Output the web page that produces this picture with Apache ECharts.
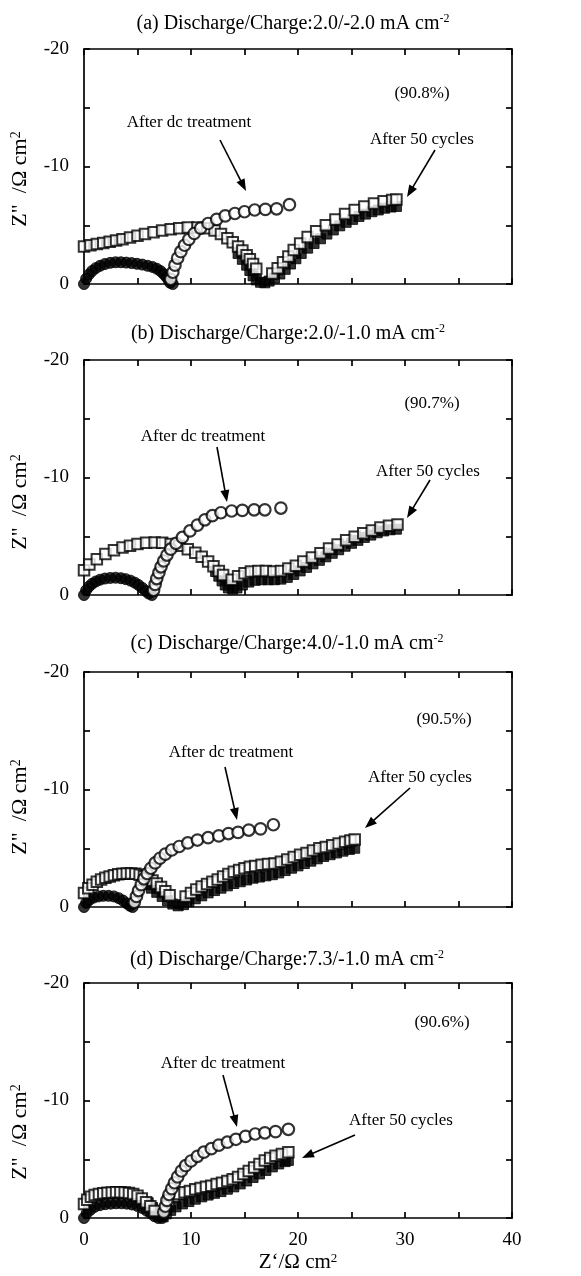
<!DOCTYPE html>
<html><head><meta charset="utf-8">
<script src="https://cdn.jsdelivr.net/npm/echarts/dist/echarts.min.js"></script>
<style>html,body{margin:0;padding:0;background:#fff}#c{width:581px;height:1276px}</style>
</head><body><div id="c"></div>
<script>
// ---------- labels ----------
const panelTitles = [
  '(a) Discharge/Charge:2.0/-2.0 mA cm{sup|-2}',
  '(b) Discharge/Charge:2.0/-1.0 mA cm{sup|-2}',
  '(c) Discharge/Charge:4.0/-1.0 mA cm{sup|-2}',
  '(d) Discharge/Charge:7.3/-1.0 mA cm{sup|-2}'
];
const efficiencies = ['(90.8%)', '(90.7%)', '(90.5%)', '(90.6%)'];
const dcLabel = 'After dc treatment';
const cycLabel = 'After 50 cycles';
const yName = 'Z"  /Ω cm{sup|2}';
const xName = 'Z‘/Ω cm{sup|2}';
const xRange = [0, 40];
const yRange = [-20, 0];
const tickStep = 5;
const labelStep = 10;

// ---------- data: [Z' , Z''] ----------
// (a)
const dcArcA = [[0,0],[0.2,-0.45],[0.45,-0.8],[0.75,-1.1],[1.1,-1.35],[1.5,-1.55],[1.95,-1.7],[2.45,-1.8],[2.95,-1.85],[3.45,-1.85],[3.95,-1.82],[4.45,-1.78],[4.95,-1.72],[5.45,-1.65],[5.95,-1.55],[6.4,-1.45],[6.8,-1.3],[7.15,-1.1],[7.45,-0.85],[7.7,-0.6],[7.9,-0.35],[8.05,-0.1],[8.3,0]];
const dcA = [[8.1,-0.4],[8.3,-1.0],[8.5,-1.6],[8.75,-2.2],[9.05,-2.75],[9.4,-3.3],[9.8,-3.8],[10.3,-4.3],[10.9,-4.75],[11.6,-5.15],[12.4,-5.5],[13.2,-5.8],[14.1,-6.0],[15.0,-6.15],[15.95,-6.3],[16.95,-6.35],[18.0,-6.4],[19.2,-6.75]];
const cycBandA = [[14.4,-2.6],[14.8,-2.1],[15.2,-1.6],[15.5,-1.15],[15.8,-0.7],[16.1,-0.35],[16.5,-0.15],[16.9,-0.1],[17.3,-0.25],[17.8,-0.5],[18.3,-0.85],[18.8,-1.25],[19.3,-1.7],[19.8,-2.15],[20.3,-2.6],[20.9,-3.05],[21.5,-3.45],[22.1,-3.85],[22.7,-4.25],[23.3,-4.6],[23.9,-4.95],[24.5,-5.25],[25.1,-5.5],[25.7,-5.75],[26.3,-5.95],[26.9,-6.15],[27.5,-6.3],[28.1,-6.45],[28.7,-6.55],[29.2,-6.6]];
const cycA = [[0.0,-3.2],[0.6,-3.3],[1.2,-3.4],[1.8,-3.5],[2.4,-3.6],[3.0,-3.7],[3.6,-3.8],[4.3,-3.95],[5.0,-4.1],[5.7,-4.25],[6.5,-4.4],[7.3,-4.55],[8.1,-4.65],[8.9,-4.75],[9.7,-4.8],[10.6,-4.8],[11.5,-4.75],[12.2,-4.55],[12.8,-4.25],[13.4,-3.9],[13.9,-3.55],[14.4,-3.2],[14.8,-2.85],[15.2,-2.45],[15.5,-2.1],[15.8,-1.7],[16.1,-1.3],[17.6,-0.9],[18.1,-1.35],[18.6,-1.85],[19.1,-2.35],[19.6,-2.9],[20.2,-3.45],[20.9,-4.0],[21.7,-4.5],[22.6,-5.0],[23.5,-5.5],[24.4,-5.95],[25.3,-6.3],[26.2,-6.6],[27.1,-6.85],[28.0,-7.05],[28.8,-7.15],[29.2,-7.2]];
// (b)
const dcArcB = [[0,0],[0.2,-0.4],[0.45,-0.7],[0.75,-0.95],[1.1,-1.15],[1.5,-1.3],[1.95,-1.4],[2.45,-1.45],[2.95,-1.47],[3.45,-1.43],[3.9,-1.35],[4.35,-1.22],[4.75,-1.05],[5.1,-0.85],[5.45,-0.6],[5.75,-0.35],[6.05,-0.12],[6.35,0]];
const dcB = [[6.5,-0.4],[6.65,-0.9],[6.8,-1.4],[7.0,-1.9],[7.2,-2.4],[7.45,-2.9],[7.75,-3.4],[8.1,-3.9],[8.6,-4.4],[9.2,-4.9],[9.9,-5.45],[10.6,-5.95],[11.3,-6.4],[12.0,-6.75],[12.8,-7.0],[13.8,-7.15],[14.8,-7.2],[15.9,-7.25],[16.9,-7.25],[18.4,-7.4]];
const cycBandB = [[12.3,-2.0],[12.6,-1.6],[12.9,-1.2],[13.2,-0.85],[13.5,-0.6],[13.9,-0.5],[14.3,-0.6],[14.8,-0.85],[15.4,-1.1],[16.0,-1.25],[16.6,-1.3],[17.2,-1.3],[17.8,-1.3],[18.4,-1.35],[19.0,-1.5],[19.6,-1.75],[20.2,-2.05],[20.8,-2.35],[21.4,-2.65],[22.0,-2.95],[22.6,-3.25],[23.2,-3.55],[23.8,-3.85],[24.4,-4.15],[25.0,-4.4],[25.6,-4.65],[26.2,-4.9],[26.8,-5.1],[27.4,-5.3],[28.0,-5.45],[28.6,-5.55],[29.2,-5.6]];
const cycB = [[0.0,-2.1],[0.5,-2.6],[1.2,-3.05],[2.0,-3.5],[2.8,-3.8],[3.6,-4.05],[4.3,-4.2],[5.0,-4.33],[5.8,-4.45],[6.6,-4.47],[7.3,-4.45],[8.1,-4.33],[8.9,-4.2],[9.7,-3.9],[10.4,-3.6],[11.0,-3.25],[11.6,-2.85],[12.1,-2.45],[12.6,-2.05],[13.0,-1.7],[13.8,-1.3],[14.4,-1.6],[15.0,-1.85],[15.6,-2.0],[16.3,-2.05],[17.0,-2.05],[17.7,-2.0],[18.4,-2.05],[19.1,-2.25],[19.8,-2.5],[20.5,-2.85],[21.3,-3.2],[22.1,-3.55],[22.9,-3.95],[23.7,-4.3],[24.5,-4.65],[25.3,-4.95],[26.1,-5.25],[26.9,-5.5],[27.7,-5.75],[28.5,-5.9],[29.3,-6.0]];
// (c)
const dcArcC = [[0,0],[0.2,-0.35],[0.5,-0.6],[0.9,-0.8],[1.35,-0.9],[1.8,-0.95],[2.3,-0.95],[2.8,-0.9],[3.25,-0.75],[3.65,-0.55],[4.0,-0.3],[4.3,-0.1],[4.55,0]];
const dcC = [[4.7,-0.4],[4.9,-0.9],[5.1,-1.4],[5.35,-1.9],[5.6,-2.4],[5.9,-2.85],[6.25,-3.3],[6.65,-3.75],[7.1,-4.15],[7.6,-4.5],[8.2,-4.85],[8.9,-5.15],[9.7,-5.45],[10.6,-5.7],[11.6,-5.9],[12.6,-6.05],[13.5,-6.25],[14.4,-6.35],[15.4,-6.55],[16.5,-6.65],[17.7,-7.0]];
const cycBandC = [[5.8,-1.9],[6.3,-1.6],[6.8,-1.25],[7.3,-0.9],[7.8,-0.55],[8.3,-0.25],[8.8,-0.1],[9.3,-0.2],[9.8,-0.45],[10.4,-0.7],[11.0,-0.95],[11.6,-1.2],[12.2,-1.4],[12.8,-1.6],[13.4,-1.8],[14.0,-2.0],[14.6,-2.15],[15.2,-2.3],[15.8,-2.45],[16.4,-2.55],[17.0,-2.65],[17.6,-2.75],[18.2,-2.9],[18.8,-3.1],[19.4,-3.3],[20.0,-3.5],[20.6,-3.7],[21.2,-3.9],[21.8,-4.1],[22.4,-4.3],[23.0,-4.45],[23.6,-4.6],[24.2,-4.75],[24.8,-4.9],[25.3,-5.0]];
const cycC = [[0.0,-1.2],[0.4,-1.6],[0.8,-1.9],[1.2,-2.15],[1.6,-2.35],[2.0,-2.5],[2.4,-2.6],[2.8,-2.7],[3.2,-2.78],[3.6,-2.83],[4.0,-2.85],[4.4,-2.85],[4.8,-2.82],[5.2,-2.75],[5.6,-2.62],[6.0,-2.45],[6.4,-2.25],[6.8,-2.0],[7.2,-1.7],[7.6,-1.35],[8.0,-1.0],[9.5,-0.9],[10.0,-1.2],[10.5,-1.5],[11.0,-1.75],[11.5,-1.95],[12.0,-2.15],[12.5,-2.35],[13.0,-2.6],[13.5,-2.8],[14.0,-3.0],[14.5,-3.15],[15.0,-3.3],[15.5,-3.42],[16.0,-3.5],[16.6,-3.6],[17.2,-3.65],[17.8,-3.7],[18.4,-3.85],[19.0,-4.05],[19.6,-4.25],[20.2,-4.45],[20.8,-4.6],[21.4,-4.8],[22.0,-5.0],[22.6,-5.1],[23.2,-5.25],[23.8,-5.4],[24.4,-5.55],[24.9,-5.65],[25.3,-5.75]];
// (d)
const dcArcD = [[0,0],[0.25,-0.4],[0.6,-0.7],[1.0,-0.95],[1.5,-1.1],[2.0,-1.18],[2.5,-1.22],[3.0,-1.25],[3.5,-1.25],[4.0,-1.22],[4.5,-1.15],[5.0,-1.02],[5.45,-0.85],[5.85,-0.62],[6.25,-0.38],[6.6,-0.15],[6.95,0],[7.3,0]];
const dcD = [[7.45,-0.5],[7.6,-1.0],[7.75,-1.5],[7.95,-2.0],[8.2,-2.5],[8.45,-3.0],[8.75,-3.5],[9.1,-4.0],[9.5,-4.45],[10.0,-4.85],[10.6,-5.25],[11.2,-5.6],[11.9,-5.9],[12.6,-6.2],[13.4,-6.45],[14.2,-6.7],[15.1,-6.95],[16.0,-7.15],[16.9,-7.25],[17.9,-7.35],[19.1,-7.55]];
const cycBandD = [[6.0,-1.3],[6.4,-0.9],[6.8,-0.5],[7.1,-0.2],[7.4,-0.1],[7.7,-0.35],[8.1,-0.65],[8.6,-0.95],[9.2,-1.2],[9.8,-1.4],[10.4,-1.6],[11.0,-1.8],[11.6,-1.95],[12.2,-2.1],[12.8,-2.25],[13.4,-2.45],[14.0,-2.65],[14.6,-2.9],[15.2,-3.15],[15.8,-3.45],[16.4,-3.75],[17.0,-4.05],[17.6,-4.35],[18.2,-4.6],[18.8,-4.8],[19.1,-4.9]];
const cycD = [[0.0,-1.2],[0.3,-1.55],[0.65,-1.8],[1.0,-1.95],[1.4,-2.05],[1.8,-2.1],[2.2,-2.15],[2.6,-2.18],[3.0,-2.2],[3.4,-2.2],[3.8,-2.18],[4.2,-2.12],[4.6,-2.05],[5.0,-1.9],[5.4,-1.65],[5.8,-1.35],[6.2,-1.0],[6.6,-0.6],[7.9,-1.5],[8.4,-1.85],[8.9,-2.05],[9.4,-2.2],[9.9,-2.3],[10.4,-2.45],[10.9,-2.55],[11.4,-2.65],[11.9,-2.75],[12.4,-2.9],[12.9,-3.0],[13.4,-3.15],[13.9,-3.3],[14.4,-3.5],[14.9,-3.75],[15.4,-4.0],[15.9,-4.3],[16.4,-4.6],[16.9,-4.9],[17.4,-5.1],[17.9,-5.3],[18.5,-5.45],[19.1,-5.6]];

const panelsData = [
  {arc: dcArcA, dc: dcA, band: cycBandA, cyc: cycA},
  {arc: dcArcB, dc: dcB, band: cycBandB, cyc: cycB},
  {arc: dcArcC, dc: dcC, band: cycBandC, cyc: cycC},
  {arc: dcArcD, dc: dcD, band: cycBandD, cyc: cycD}
];

// ---------- layout (pixels) ----------
const FONT = 'Liberation Serif, Times New Roman, serif';
const gridTops = [49, 360, 672, 983];
const gridH = 235, gridL = 84, gridW = 428;
const titlePos = [[293, 24], [288, 334], [287, 644], [287, 960]];
const yNamePos = [[20, 179], [20, 502], [20, 807], [20, 1132]];
const effPos = [[422, 94], [432, 404], [444, 720], [442, 1023]];
const dcTextPos = [[189, 123], [203, 437], [231, 753], [223, 1064]];
const dcArrow = [[220, 140, 246, 191], [217, 447, 227, 502], [225, 767, 237, 820], [223, 1075, 237, 1127]];
const cycTextPos = [[422, 140], [428, 472], [420, 778], [401, 1121]];
const cycArrow = [[435, 150, 407, 197], [430, 480, 407, 518], [410, 788, 365, 828], [355, 1135, 302, 1158]];

const chart = echarts.init(document.getElementById('c'), null, {renderer: 'canvas'});

const grids = [], xAxes = [], yAxes = [], series = [], graphics = [];
const lineStyle = {color: '#000', width: 1.7};
const fmt = v => (Math.round(v) % labelStep === 0 ? String(v) : '');

gridTops.forEach((top, i) => {
  grids.push({left: gridL, top: top, width: gridW, height: gridH, containLabel: false, outerBoundsMode: 'none', show: false});
  const isLast = i === gridTops.length - 1;
  const baseX = {type: 'value', gridIndex: i, min: xRange[0], max: xRange[1], interval: tickStep,
    axisLine: {show: true, onZero: false, lineStyle: lineStyle}, axisTick: {show: true, inside: true, length: 6, lineStyle: lineStyle},
    splitLine: {show: false}};
  xAxes.push(Object.assign({}, baseX, {position: 'bottom',
    axisLabel: {show: isLast, formatter: fmt, fontFamily: FONT, fontSize: 19, color: '#000', margin: 13, showMinLabel: true, showMaxLabel: true},
    name: isLast ? xName : '', nameLocation: 'middle', nameGap: 34,
    nameTextStyle: {fontFamily: FONT, fontSize: 21, color: '#000', rich: {sup: {fontFamily: FONT, fontSize: 13, verticalAlign: 'top', lineHeight: 12}}}}));
  xAxes.push(Object.assign({}, baseX, {position: 'top', axisLabel: {show: false}}));
  const baseY = {type: 'value', gridIndex: i, min: yRange[0], max: yRange[1], interval: tickStep, inverse: true,
    axisLine: {show: true, onZero: false, lineStyle: lineStyle}, axisTick: {show: true, inside: true, length: 6, lineStyle: lineStyle},
    splitLine: {show: false}};
  yAxes.push(Object.assign({}, baseY, {position: 'left',
    axisLabel: {show: true, formatter: fmt, fontFamily: FONT, fontSize: 19, color: '#000', margin: 15, showMinLabel: true, showMaxLabel: true}}));
  yAxes.push(Object.assign({}, baseY, {position: 'right', axisLabel: {show: false}}));

  const d = panelsData[i];
  const common = {type: 'scatter', xAxisIndex: 2 * i, yAxisIndex: 2 * i, silent: true, animation: false};
  series.push(Object.assign({}, common, {name: dcLabel, data: d.arc, symbol: 'circle', symbolSize: 11,
    itemStyle: {color: '#000', borderColor: '#000', borderWidth: 1}}));
  series.push(Object.assign({}, common, {name: cycLabel, data: d.band, symbol: 'rect', symbolSize: 10,
    itemStyle: {color: '#000', borderColor: '#000', borderWidth: 1}}));
  series.push(Object.assign({}, common, {name: cycLabel, data: d.cyc, symbol: 'rect', symbolSize: 10.5,
    itemStyle: {color: '#fff', borderColor: '#000', borderWidth: 2}}));
  series.push(Object.assign({}, common, {name: dcLabel, data: d.dc, symbol: 'circle', symbolSize: 11.5,
    itemStyle: {color: '#fff', borderColor: '#000', borderWidth: 2.2}}));

  // titles
  graphics.push({type: 'text', x: titlePos[i][0], y: titlePos[i][1], silent: true,
    style: {text: panelTitles[i], fontFamily: FONT, fontSize: 20, fill: '#000', align: 'center', verticalAlign: 'middle', lineHeight: 22,
      rich: {sup: {fontFamily: FONT, fontSize: 12, verticalAlign: 'top', lineHeight: 12}}}});
  // y-axis name
  graphics.push({type: 'text', x: yNamePos[i][0], y: yNamePos[i][1], rotation: Math.PI / 2, silent: true,
    style: {text: yName, fontFamily: FONT, fontSize: 22, fill: '#000', align: 'center', verticalAlign: 'middle', lineHeight: 22,
      rich: {sup: {fontFamily: FONT, fontSize: 14, verticalAlign: 'top', lineHeight: 12}}}});
  // annotations
  const txt = (pos, s) => ({type: 'text', x: pos[0], y: pos[1], silent: true,
    style: {text: s, fontFamily: FONT, fontSize: 17, fill: '#000', align: 'center', verticalAlign: 'middle'}});
  graphics.push(txt(effPos[i], efficiencies[i]));
  graphics.push(txt(dcTextPos[i], dcLabel));
  graphics.push(txt(cycTextPos[i], cycLabel));
  [dcArrow[i], cycArrow[i]].forEach(a => {
    const [x1, y1, x2, y2] = a;
    const ang = Math.atan2(y2 - y1, x2 - x1), L = 12, W = 4.5;
    const c = Math.cos(ang), s = Math.sin(ang);
    const bx = x2 - L * c, by = y2 - L * s;
    graphics.push({type: 'line', silent: true, shape: {x1: x1, y1: y1, x2: bx + 2 * c, y2: by + 2 * s}, style: {stroke: '#000', lineWidth: 1.6}});
    graphics.push({type: 'polygon', silent: true, shape: {points: [[x2, y2], [bx - s * W, by + c * W], [bx + s * W, by - c * W]]}, style: {fill: '#000'}});
  });
});

chart.setOption({
  animation: false,
  backgroundColor: '#fff',
  grid: grids,
  xAxis: xAxes,
  yAxis: yAxes,
  series: series,
  graphic: graphics
});
</script></body></html>
